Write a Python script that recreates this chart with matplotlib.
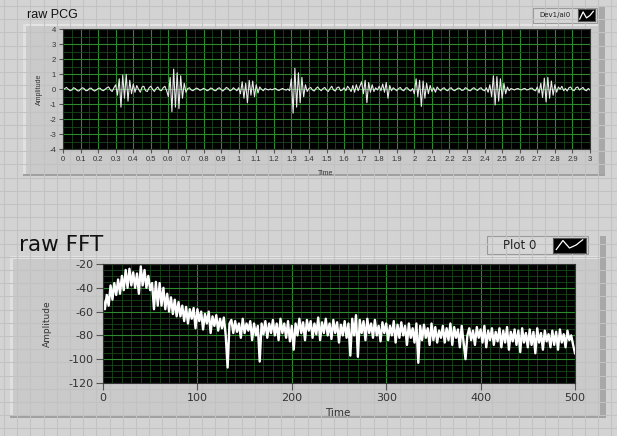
import numpy as np
import matplotlib
matplotlib.use('Agg')
import matplotlib.pyplot as plt
from matplotlib.patches import Rectangle
from matplotlib.ticker import MultipleLocator

plt.rcParams['axes.unicode_minus'] = False

# --- данные: raw PCG (шаг 0.01 с, 0..3 с) ---
pcg_t = np.round(np.arange(0, 301) * 0.01, 2)
pcg_v = [
    -0.05, 0.05, 0.12, 0.0, -0.1, -0.05, 0.1, 0.05, -0.08, -0.12,
    0.0, 0.1, 0.05, -0.1, -0.08, 0.05, 0.08, -0.05, -0.12, -0.05,
    0.05, 0.08, -0.05, -0.1, 0.0, 0.1, 0.15, -0.05, -0.15, 0.1,
    0.3, -0.4, 0.7, -1.2, 0.95, -0.6, 1.0, -0.8, 0.6, -0.3,
    0.35, -0.2, 0.25, 0.0, -0.2, 0.15, 0.2, -0.1, -0.15, 0.1,
    0.2, 0.0, -0.15, 0.05, 0.15, -0.05, -0.1, 0.1, 0.2, -0.1,
    -0.5, 0.8, -1.5, 1.35, -1.2, 1.1, -1.3, 0.9, -0.6, 0.4,
    -0.2, 0.05, 0.1, -0.05, -0.1, 0.0, 0.08, 0.02, -0.08, -0.02,
    0.06, 0.0, -0.1, -0.05, 0.08, 0.05, -0.08, -0.1, 0.05, 0.1,
    -0.02, -0.12, 0.0, 0.12, 0.05, -0.1, -0.05, 0.1, 0.0, -0.1,
    0.1, -0.3, 0.5, -0.6, 0.4, -0.9, 0.6, -0.4, 0.55, -0.5,
    0.3, -0.25, 0.15, 0.0, -0.1, 0.05, 0.0, -0.05, 0.02, -0.04,
    0.02, 0.05, -0.05, -0.08, 0.0, 0.05, -0.02, -0.06, 0.02, -0.1,
    0.7, -1.6, 1.4, -1.2, 1.1, -0.9, 0.8, -0.5, 0.3, -0.15,
    0.05, 0.12, -0.05, -0.12, 0.05, 0.15, 0.0, -0.1, 0.05, 0.12,
    -0.05, -0.15, 0.05, 0.2, -0.05, -0.12, 0.1, 0.15, -0.1, -0.05,
    0.1, -0.1, 0.2, 0.05, -0.15, 0.25, -0.2, 0.3, -0.1, 0.2,
    0.5, -0.3, 0.6, -0.9, 0.45, -0.2, 0.3, -0.15, 0.1, -0.05,
    0.2, -0.1, 0.35, -0.2, 0.45, -0.6, 0.25, -0.1, 0.1, 0.0,
    -0.1, 0.05, 0.12, -0.05, -0.1, 0.08, 0.1, -0.05, -0.12, 0.05,
    -0.3, 0.7, -0.5, 0.6, -1.15, 0.55, -0.6, 0.4, -0.3, 0.25,
    -0.15, 0.1, -0.2, 0.15, 0.0, -0.1, 0.05, 0.1, -0.05, -0.1,
    0.05, 0.1, -0.05, -0.1, 0.0, 0.08, 0.05, -0.08, -0.05, 0.1,
    0.05, -0.08, -0.1, 0.05, 0.1, -0.02, -0.08, 0.05, 0.1, -0.05,
    -0.1, 0.1, -0.2, 0.3, -0.5, 0.9, -1.05, 0.85, -0.8, 0.7,
    -0.6, 0.4, -0.3, 0.15, -0.1, 0.05, 0.0, -0.05, 0.02, 0.05,
    -0.02, -0.05, 0.03, 0.05, -0.05, -0.02, 0.06, 0.08, -0.05, -0.1,
    0.15, -0.25, 0.4, -0.55, 0.75, -0.85, 0.8, -0.6, 0.55, -0.4,
    0.3, -0.2, 0.15, 0.0, 0.2, -0.1, 0.05, -0.12, 0.1, 0.15,
    -0.05, -0.1, 0.1, 0.15, -0.05, 0.05, 0.12, -0.05, -0.1, 0.05, -0.05,
]

# --- данные: raw FFT (шаг 2, 0..500) ---
fft_f = np.arange(0, 501, 2)
fft_v = [
    -50, -58, -46, -55, -38, -50, -36, -46, -33, -45,
    -30, -42, -25, -40, -24, -38, -27, -40, -28, -45,
    -22, -38, -25, -40, -30, -42, -36, -58, -35, -55,
    -36, -55, -40, -58, -45, -60, -48, -62, -50, -64,
    -52, -64, -55, -68, -56, -70, -58, -66, -57, -74,
    -58, -68, -60, -75, -62, -70, -60, -78, -64, -72,
    -63, -76, -66, -74, -65, -80, -107, -70, -67, -78,
    -68, -77, -70, -82, -66, -78, -70, -76, -68, -84,
    -70, -80, -72, -102, -70, -79, -68, -82, -70, -78,
    -67, -80, -70, -84, -66, -78, -70, -82, -68, -85,
    -72, -92, -70, -80, -66, -78, -69, -84, -67, -76,
    -68, -82, -70, -79, -65, -84, -69, -78, -66, -80,
    -70, -83, -67, -78, -69, -86, -71, -80, -68, -82,
    -70, -97, -66, -80, -63, -98, -67, -78, -68, -84,
    -66, -78, -70, -82, -67, -80, -72, -85, -69, -78,
    -70, -84, -72, -80, -68, -86, -71, -82, -69, -80,
    -72, -88, -70, -82, -74, -86, -70, -103, -72, -84,
    -71, -82, -74, -88, -70, -84, -73, -86, -76, -82,
    -72, -86, -74, -84, -70, -88, -73, -82, -75, -90,
    -72, -86, -100, -80, -74, -84, -76, -88, -73, -82,
    -75, -86, -72, -90, -76, -84, -74, -88, -77, -85,
    -74, -90, -76, -86, -73, -92, -77, -85, -75, -88,
    -76, -94, -74, -86, -78, -90, -75, -88, -77, -95,
    -74, -86, -78, -92, -76, -85, -79, -90, -76, -88,
    -77, -92, -75, -86, -79, -90, -76, -84, -80, -88,
    -95,
]

pcg_xticks = np.round(np.arange(0, 3.01, 0.1), 1)
pcg_xlabels = ['0' if v == 0 else ('%g' % v) for v in pcg_xticks]
icon_x = [0, 1, 2, 3, 4]
icon_y = [0.2, 0.8, 0.3, 0.5, 0.85]

W, H = 617, 436
fig = plt.figure(figsize=(W / 100, H / 100), dpi=100)
fig.patch.set_facecolor('#d3d3d3')

# фон панели LabVIEW с сеткой (в пикселях)
bg = fig.add_axes([0, 0, 1, 1], zorder=-10)
bg.set_xlim(0, W)
bg.set_ylim(H, 0)
bg.axis('off')
for gx in np.arange(4, W, 13.2):
    bg.axvline(gx, color='#c2c2c2', lw=0.8)
for gy in np.arange(6, H, 13.2):
    bg.axhline(gy, color='#c2c2c2', lw=0.8)


def panel(x0, y0, x1, y1, sh_top):
    bg.add_patch(Rectangle((x0, y0), x1 - x0, y1 - y0, fc='#cacaca', ec='none'))
    bg.add_patch(Rectangle((x0, y0), x1 - x0, 2.5, fc='#e4e4e4', ec='none'))
    bg.add_patch(Rectangle((x0, y0), 2.5, y1 - y0, fc='#e0e0e0', ec='none'))
    bg.add_patch(Rectangle((x1 - 6, sh_top), 6, y1 - sh_top, fc='#a8a8a8', ec='none'))
    bg.add_patch(Rectangle((x0, y1 - 2), x1 - x0, 2, fc='#a0a0a0', ec='none'))


def legend_box(x0, y0, x1, y1, text, fs, ix0, ix1):
    bg.add_patch(Rectangle((x0, y0), x1 - x0, y1 - y0, fc='#d6d6d6', ec='#9a9a9a', lw=0.8))
    bg.text((x0 + ix0) / 2, (y0 + y1) / 2, text, fontsize=fs, color='#222222',
            ha='center', va='center')
    ia = fig.add_axes([ix0 / W, 1 - (y1 - 1.5) / H, (ix1 - ix0) / W, (y1 - y0 - 3) / H])
    ia.set_facecolor('black')
    ia.plot(icon_x, icon_y, color='white', lw=0.9)
    ia.set_xlim(-0.5, 4.5)
    ia.set_ylim(0, 1)
    ia.set_xticks([])
    ia.set_yticks([])
    for s in ia.spines.values():
        s.set_color('#555555')


panel(23, 24, 605, 176, 6)
panel(10, 256, 606, 418, 236)
bg.text(27, 15, 'raw PCG', fontsize=9, family='Liberation Sans', color='#111111', va='center')
bg.text(19, 245, 'raw FFT', fontsize=15.5, color='#111111', va='center')
legend_box(533, 8, 597, 23, 'Dev1/ai0', 5, 578, 595)
legend_box(487, 236, 588, 254, 'Plot 0', 8.5, 553, 586)


def style_axes(ax):
    ax.set_facecolor('black')
    ax.grid(which='minor', color='#1a481a', lw=0.6)
    ax.grid(which='major', color='#2f8a2f', lw=0.8)
    ax.set_axisbelow(True)
    for s in ax.spines.values():
        s.set_color('#333333')
        s.set_linewidth(0.8)
    ax.tick_params(which='both', colors='#555555', labelcolor='#333333')


# --- raw PCG ---
ax1 = fig.add_axes([63 / W, 1 - 149 / H, 527 / W, 119.5 / H])
ax1.plot(pcg_t, pcg_v, color='#e8e8e8', lw=0.8)
ax1.set_xlim(0, 3)
ax1.set_ylim(-4, 4)
ax1.set_xticks(pcg_xticks)
ax1.set_xticklabels(pcg_xlabels)
ax1.set_yticks(range(-4, 5))
ax1.xaxis.set_minor_locator(MultipleLocator(0.05))
ax1.yaxis.set_minor_locator(MultipleLocator(0.5))
style_axes(ax1)
ax1.tick_params(which='major', labelsize=5.5, length=3, pad=2)
ax1.tick_params(which='minor', length=0)
for lab in ax1.get_xticklabels() + ax1.get_yticklabels():
    lab.set_family('Liberation Sans')
ax1.set_xlabel('Time', fontsize=5, family='Liberation Sans', color='#333333')
ax1.set_ylabel('Amplitude', fontsize=5, family='Liberation Sans', color='#333333')
ax1.xaxis.set_label_coords(0.499, -0.176)
ax1.yaxis.set_label_coords(-0.038, 0.5)

# --- raw FFT ---
ax2 = fig.add_axes([103 / W, 1 - 383 / H, 472 / W, 119 / H])
ax2.plot(fft_f, fft_v, color='white', lw=1.7)
ax2.set_xlim(0, 500)
ax2.set_ylim(-120, -20)
ax2.set_xticks(range(0, 501, 100))
ax2.set_yticks(range(-120, -19, 20))
ax2.xaxis.set_minor_locator(MultipleLocator(10))
ax2.yaxis.set_minor_locator(MultipleLocator(5))
style_axes(ax2)
ax2.tick_params(which='major', labelsize=8, length=5, pad=2)
ax2.tick_params(which='minor', length=0)
ax2.set_xlabel('Time', fontsize=7.5, color='#333333')
ax2.set_ylabel('Amplitude', fontsize=6.5, color='#333333')
ax2.xaxis.set_label_coords(0.497, -0.21)
ax2.yaxis.set_label_coords(-0.109, 0.5)

fig.savefig('out.png', dpi=100, facecolor=fig.get_facecolor())
